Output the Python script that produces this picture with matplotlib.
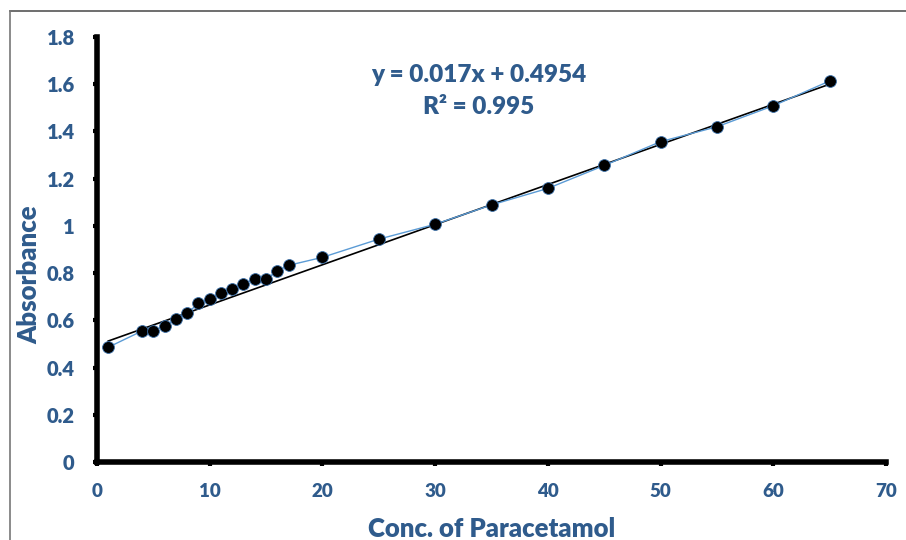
import matplotlib.pyplot as plt
from matplotlib.lines import Line2D

conc = [1, 4, 5, 6, 7, 8, 9, 10, 11, 12, 13, 14, 15, 16, 17, 20, 25, 30, 35, 40, 45, 50, 55, 60, 65]
absorbance = [0.486, 0.555, 0.555, 0.577, 0.606, 0.630, 0.672, 0.689, 0.717, 0.731, 0.754, 0.775, 0.775,
              0.809, 0.833, 0.867, 0.944, 1.007, 1.089, 1.159, 1.256, 1.357, 1.420, 1.509, 1.614]
slope = 0.017
intercept = 0.4954
r2 = 0.995

x_ticks = [0, 10, 20, 30, 40, 50, 60, 70]
y_ticks = [0, 0.2, 0.4, 0.6, 0.8, 1.0, 1.2, 1.4, 1.6, 1.8]
y_labels = ['0', '0.2', '0.4', '0.6', '0.8', '1', '1.2', '1.4', '1.6', '1.8']

blue = '#2F5B8C'
plt.rcParams['font.family'] = ['Lato', 'DejaVu Sans']

fig = plt.figure(figsize=(9.06, 5.4), dpi=100)
ax = fig.add_axes([0.107, 0.1444, 0.871, 0.787])

ax.plot(conc, absorbance, color='#5B9BD5', linewidth=1, marker='o', markersize=8.5,
        markerfacecolor='black', markeredgecolor='#3A6FA8', markeredgewidth=0.6, zorder=3)
fit_x = [conc[0], conc[-1]]
fit_y = [slope * v + intercept for v in fit_x]
ax.plot(fit_x, fit_y, color='black', linewidth=1.2, zorder=2)

ax.set_xlim(0, 70)
ax.set_ylim(0, 1.8)
ax.set_xticks(x_ticks)
ax.set_yticks(y_ticks)
ax.set_yticklabels(y_labels)

for s in ['top', 'right']:
    ax.spines[s].set_visible(False)
for s in ['left', 'bottom']:
    ax.spines[s].set_linewidth(4)
    ax.spines[s].set_color('black')

ax.tick_params(axis='both', direction='out', length=3, width=3, color='black', labelcolor=blue)
ax.tick_params(axis='x', pad=12, labelsize=13.5)
ax.tick_params(axis='y', pad=13, labelsize=14.5)
for lab in ax.get_xticklabels() + ax.get_yticklabels():
    lab.set_fontweight('heavy')

ax.set_xlabel('Conc. of Paracetamol', fontsize=18.5, fontweight='heavy', color=blue, labelpad=12)
ax.set_ylabel('Absorbance', fontsize=18.5, fontweight='heavy', color=blue)
ax.yaxis.set_label_coords(-0.07, 0.44)

ax.text(0.484, 0.911, 'y = 0.017x + 0.4954', transform=ax.transAxes, ha='center', va='center',
        fontsize=17.5, fontweight='heavy', color=blue)
ax.text(0.484, 0.835, 'R² = %.3f' % r2, transform=ax.transAxes, ha='center', va='center',
        fontsize=17.5, fontweight='heavy', color=blue)

fig.add_artist(Line2D([10 / 906, 1], [1 - 11 / 540, 1 - 11 / 540], color='#555555', linewidth=1.2,
                      transform=fig.transFigure))
fig.add_artist(Line2D([10 / 906, 10 / 906], [0, 1 - 11 / 540], color='#777777', linewidth=1.2,
                      transform=fig.transFigure))

fig.savefig('out.png', dpi=100)
